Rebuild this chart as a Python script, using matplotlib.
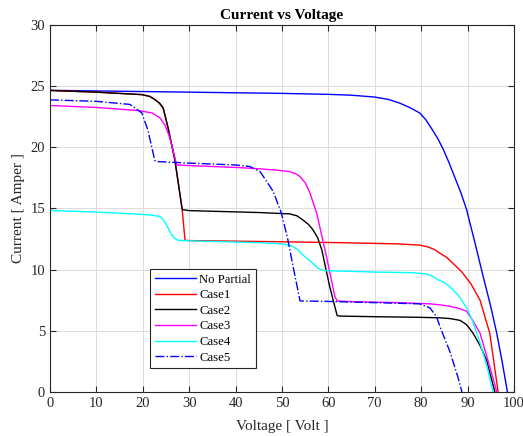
import matplotlib.pyplot as plt

plt.rcParams['font.family'] = ['Liberation Serif', 'DejaVu Serif']

# voltage / current points
v_np = [0, 10, 20, 30, 40, 50, 60, 65, 70, 73, 75.4, 77.5, 79.7, 81, 82.3, 83.6, 84.8,
        86, 87.3, 88.6, 89.8, 91.6, 93.4, 95, 96.3, 97.5, 98.6]
i_np = [24.65, 24.6, 24.55, 24.5, 24.45, 24.4, 24.32, 24.25, 24.1, 23.9, 23.6, 23.25,
        22.8, 22.25, 21.5, 20.7, 19.8, 18.75, 17.5, 16.25, 14.9, 12.2, 9.4, 7.0, 4.8,
        2.4, 0]

v_c1 = [0, 10, 19.8, 21.5, 22.6, 23.6, 24.4, 25.5, 26.9, 28.5, 29.1, 30, 45, 62.5, 75,
        79.7, 81.5, 82.8, 84, 85.5, 86.9, 88.8, 90.8, 92.7, 94.8, 96.6]
i_c1 = [24.64, 24.5, 24.3, 24.15, 23.9, 23.6, 23.2, 21.5, 19.0, 14.9, 12.4, 12.37, 12.3,
        12.2, 12.1, 12.0, 11.85, 11.65, 11.35, 11.0, 10.5, 9.8, 8.8, 7.5, 4.8, 0]

v_c2 = [0, 10, 19.8, 21.5, 22.6, 23.6, 24.4, 25.5, 26.9, 28.5, 30, 45.3, 51.7, 53.2,
        54.5, 55.7, 56.7, 57.7, 58.6, 60.3, 61.9, 62.5, 70, 79.7, 84, 86.2, 88.4, 89.8,
        91.2, 92.7, 94.1, 95.9]
i_c2 = [24.64, 24.5, 24.3, 24.15, 23.9, 23.6, 23.2, 21.5, 19.0, 14.9, 14.82, 14.66,
        14.55, 14.4, 14.06, 13.7, 13.25, 12.6, 11.6, 8.6, 6.24, 6.2, 6.15, 6.1, 6.06,
        6.0, 5.85, 5.5, 4.8, 3.8, 2.6, 0]

v_c3 = [0, 10, 19, 22, 23.7, 24.8, 25.7, 26.5, 27.3, 30, 40, 45.3, 49, 51.7, 52.9, 53.9,
        55, 56, 57.5, 59.6, 61.4, 61.9, 65, 75, 82, 84.5, 86.2, 88, 89.8, 91.2, 92.7,
        94.8, 96.3]
i_c3 = [23.41, 23.25, 23.0, 22.8, 22.4, 21.8, 20.9, 19.8, 18.56, 18.5, 18.35, 18.23,
        18.12, 18.0, 17.85, 17.6, 17.1, 16.3, 14.6, 11.06, 7.8, 7.44, 7.38, 7.3, 7.2,
        7.1, 7.0, 6.85, 6.6, 5.8, 4.8, 2.07, 0]

v_c4 = [0, 10, 18, 21.6, 23.7, 24.5, 25.1, 25.7, 26.2, 26.9, 27.6, 30, 40, 45.3, 50,
        51.5, 52.4, 53.5, 54.5, 55.6, 56.7, 57.8, 58.9, 62.5, 70, 78, 81, 82.5, 83.5,
        85, 86.2, 88, 89.8, 91.2, 92.7, 94.2, 95.5]
i_c4 = [14.83, 14.7, 14.55, 14.47, 14.33, 14.05, 13.65, 13.25, 12.84, 12.55, 12.4,
        12.35, 12.25, 12.2, 12.1, 12.0, 11.88, 11.6, 11.2, 10.85, 10.5, 10.1, 9.92, 9.88,
        9.8, 9.75, 9.65, 9.45, 9.2, 8.95, 8.6, 7.9, 6.9, 5.7, 4.0, 2.1, 0]

v_c5 = [0, 10, 17.2, 19.8, 21.1, 22.6, 23, 30, 40, 43.1, 45.3, 48.1, 49.9, 51.3, 52.4,
        53.9, 60, 70, 79.7, 81.9, 83.3, 84.1, 86.2, 87.9, 88.8]
i_c5 = [23.87, 23.75, 23.5, 22.8, 21.4, 18.9, 18.83, 18.7, 18.55, 18.42, 18.0, 16.4,
        14.6, 12.4, 10.25, 7.44, 7.4, 7.3, 7.2, 6.87, 6.16, 5.3, 3.3, 1.25, 0]

fig = plt.figure(figsize=(5.23, 4.36), dpi=100)
ax = fig.add_axes([0.0956, 0.101, 0.887, 0.842])

ax.plot(v_np, i_np, color='#0000ff', lw=1, label='No Partial')
ax.plot(v_c1, i_c1, color='#ff0000', lw=1, label='Case1')
ax.plot(v_c2, i_c2, color='#000000', lw=1, label='Case2')
ax.plot(v_c3, i_c3, color='#ff00ff', lw=1, label='Case3')
ax.plot(v_c4, i_c4, color='#00ffff', lw=1, label='Case4')
ax.plot(v_c5, i_c5, color='#0000ff', lw=1, ls='-.', label='Case5')

ax.set_xlim(0, 100)
ax.set_ylim(0, 30)
ax.set_xticks(range(0, 101, 10))
ax.set_yticks(range(0, 31, 5))
ax.grid(True, color='#dcdcdc', lw=0.7)
ax.set_axisbelow(True)
ax.tick_params(direction='in', top=True, right=True, labelsize=10.5, colors='#262626',
               length=4, width=0.8)
for s in ax.spines.values():
    s.set_color('#262626')
    s.set_linewidth(0.8)

ax.set_title('Current vs Voltage', fontsize=11, fontweight='bold', pad=4)
ax.set_xlabel('Voltage [ Volt ]', fontsize=11, color='#262626', labelpad=7)
ax.set_ylabel('Current [ Amper ]', fontsize=11, color='#262626', labelpad=4)

leg = ax.legend(loc='lower left', bbox_to_anchor=(0.216, 0.065), fontsize=9.2,
                fancybox=False, edgecolor='#262626', framealpha=1, handlelength=3.2,
                handletextpad=0.3, labelspacing=0.28, borderpad=0.35, borderaxespad=0)
leg.get_frame().set_linewidth(0.8)

fig.savefig('out.png', dpi=100)
